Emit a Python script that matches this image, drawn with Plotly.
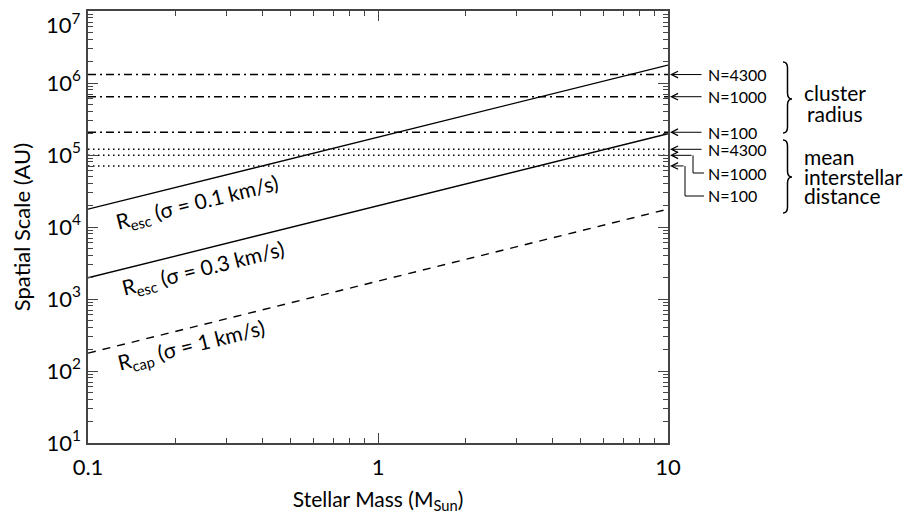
import numpy as np
import plotly.graph_objects as go

# ---- data ----
mass = [0.1, 10]                       # stellar mass (M_Sun)
r_esc_01 = [1.77e4, 1.77e6]            # R_esc, sigma = 0.1 km/s (AU)
r_esc_03 = [1.97e3, 1.97e5]            # R_esc, sigma = 0.3 km/s (AU)
r_cap_1 = [1.77e2, 1.77e4]             # R_cap, sigma = 1 km/s (AU)
n_stars = ["4300", "1000", "100"]
cluster_radius = [1.31e6, 6.45e5, 2.07e5]      # AU
interstellar_dist = [1.20e5, 9.9e4, 7.05e4]    # AU
ytick_vals = [1e1, 1e2, 1e3, 1e4, 1e5, 1e6, 1e7]
ytick_text = ["10<sup>1</sup>", "10<sup>2</sup>", "10<sup>3</sup>", "10<sup>4</sup>",
              "10<sup>5</sup>", "10<sup>6</sup>", "10<sup>7</sup>"]
xtick_vals = [0.1, 1, 10]
xtick_text = ["0.1", "1", "10"]

FONT = "Lato, 'Open Sans', sans-serif"
OFF = 8                      # page body margin
W, H = 911 - OFF, 514 - OFF
L, T = 88 - OFF, 11 - OFF
R, B = W - (668 - OFF), H - (443 - OFF)
PW, PH = W - L - R, H - T - B

def px_x(px):               # window pixel -> paper x
    return (px - OFF - L) / PW

def py_y(py):               # window pixel -> paper y
    return (H - B - (py - OFF)) / PH

def val_y(v):
    return (np.log10(v) - 1) / 6.0

fig = go.Figure()
fig.add_trace(go.Scatter(x=mass, y=r_esc_01, mode="lines", line=dict(color="black", width=1.4)))
fig.add_trace(go.Scatter(x=mass, y=r_esc_03, mode="lines", line=dict(color="black", width=1.4)))
fig.add_trace(go.Scatter(x=mass, y=r_cap_1, mode="lines", line=dict(color="black", width=1.4, dash="8px,7px")))
for v in cluster_radius:
    fig.add_trace(go.Scatter(x=mass, y=[v, v], mode="lines",
                             line=dict(color="black", width=1.4, dash="8px,4px,2px,4px")))
for v in interstellar_dist:
    fig.add_trace(go.Scatter(x=mass, y=[v, v], mode="lines",
                             line=dict(color="black", width=1.4, dash="1.5px,3.5px")))

ang = -np.degrees(np.arctan(2 * (PH / 6.0) / PW))
line_labels = [
    ("R<sub>esc</sub> (σ = 0.1 km/s)", 197, 203),
    ("R<sub>esc</sub> (σ = 0.3 km/s)", 203, 269),
    ("R<sub>cap</sub> (σ = 1 km/s)", 191, 346),
]
annotations = []
for txt, cx, cy in line_labels:
    annotations.append(dict(text=txt, x=px_x(cx), y=py_y(cy), xref="paper", yref="paper",
                            xanchor="center", yanchor="middle",
                            showarrow=False, textangle=ang, font=dict(size=21, color="black", family=FONT)))

# top y tick label (placed as text so it stays inside the page)
annotations.append(dict(text=ytick_text[-1], x=px_x(82), y=py_y(OFF), xref="paper", yref="paper",
                        xanchor="right", yanchor="top", showarrow=False, borderpad=0,
                        font=dict(size=22, color="black", family=FONT)))

tip_x = px_x(670)
# cluster radius arrows
for n, v in zip(n_stars, cluster_radius):
    annotations.append(dict(text="", x=tip_x, y=val_y(v), xref="paper", yref="paper",
                            showarrow=True, ax=33, ay=0, arrowhead=5, arrowsize=1.3,
                            arrowwidth=1, arrowcolor="black"))
    annotations.append(dict(text="N=" + n, x=px_x(706), y=val_y(v), xref="paper", yref="paper",
                            xanchor="left", yanchor="middle", showarrow=False,
                            font=dict(size=16, color="black", family=FONT)))

# interstellar distance arrows (with elbows)
tails = [703, 693, 685]
text_py = [None, 173, 196]
shapes = []
for n, v, tx, tpy in zip(n_stars, interstellar_dist, tails, text_py):
    annotations.append(dict(text="", x=tip_x, y=val_y(v), xref="paper", yref="paper",
                            showarrow=True, ax=tx - 670, ay=0, arrowhead=5, arrowsize=1.3,
                            arrowwidth=1, arrowcolor="black"))
    if tpy is None:
        ty = val_y(v)
    else:
        ty = py_y(tpy)
        shapes.append(dict(type="path", xref="paper", yref="paper",
                           path=f"M{px_x(tx)},{val_y(v)} L{px_x(tx)},{ty} L{px_x(704)},{ty}",
                           line=dict(color="black", width=1)))
    annotations.append(dict(text="N=" + n, x=px_x(706), y=ty, xref="paper", yref="paper",
                            xanchor="left", yanchor="middle", showarrow=False,
                            font=dict(size=16, color="black", family=FONT)))

def brace(x0, yt, yb, ym, w):
    xm = x0 + w / 2.0
    r = 6
    pts = [
        f"M{px_x(x0)},{py_y(yt)}",
        f"Q{px_x(xm)},{py_y(yt)} {px_x(xm)},{py_y(yt + r)}",
        f"L{px_x(xm)},{py_y(ym - r)}",
        f"Q{px_x(xm)},{py_y(ym)} {px_x(x0 + w)},{py_y(ym)}",
        f"Q{px_x(xm)},{py_y(ym)} {px_x(xm)},{py_y(ym + r)}",
        f"L{px_x(xm)},{py_y(yb - r)}",
        f"Q{px_x(xm)},{py_y(yb)} {px_x(x0)},{py_y(yb)}",
    ]
    return dict(type="path", xref="paper", yref="paper", path=" ".join(pts),
                line=dict(color="black", width=1.5))

shapes.append(brace(783, 62, 133, 99, 9))
shapes.append(brace(783, 140, 213, 177, 9))

for txt, cx, cy, anchor in [("cluster", 835, 93, "center"), ("radius", 835, 113, "center"),
                            ("mean", 802, 157, "left"), ("interstellar", 802, 176, "left"),
                            ("distance", 802, 196, "left")]:
    annotations.append(dict(text=txt, x=px_x(cx), y=py_y(cy), xref="paper", yref="paper",
                            xanchor=anchor, yanchor="middle", showarrow=False,
                            font=dict(size=21, color="black", family=FONT)))

axis_common = dict(showline=True, linecolor="#444", linewidth=1.5, mirror="ticks",
                   ticks="inside", tickcolor="#444", tickwidth=1, showgrid=False,
                   zeroline=False, tickfont=dict(size=22, color="black", family=FONT))

fig.update_xaxes(type="log", range=[-1, 1], tickvals=xtick_vals, ticktext=xtick_text,
                 ticklen=10, ticklabelstandoff=4,
                 minor=dict(ticks="inside", ticklen=5, tickcolor="#444", dtick="D1", showgrid=False),
                 title=dict(text="Stellar Mass (M<sub>Sun</sub>)", standoff=16,
                            font=dict(size=21, color="black", family=FONT)),
                 **axis_common)
fig.update_yaxes(type="log", range=[1, 7], tickvals=ytick_vals[:-1], ticktext=ytick_text[:-1],
                 ticklen=10, ticklabelstandoff=1,
                 minor=dict(ticks="inside", ticklen=5, tickcolor="#444", dtick="D1", showgrid=False),
                 title=dict(text="Spatial Scale (AU)", standoff=21,
                            font=dict(size=22, color="black", family=FONT)),
                 **axis_common)

fig.update_layout(width=W, height=H, margin=dict(l=L, r=R, t=T, b=B, autoexpand=False),
                  paper_bgcolor="white", plot_bgcolor="white", showlegend=False,
                  annotations=annotations, shapes=shapes, font=dict(family=FONT))
fig.write_html("out.html")
